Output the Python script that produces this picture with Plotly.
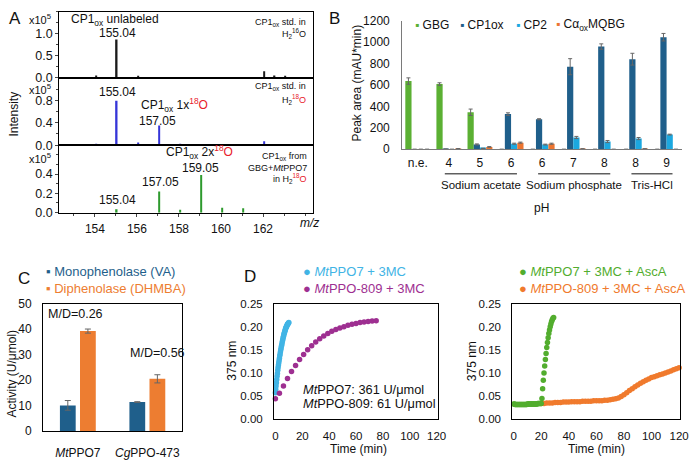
import plotly.graph_objects as go

W, H = 700, 466
FONT = "Liberation Sans, Arial, sans-serif"
TXT = "#111111"
RED = "#e8202a"

# ---------------- Panel A data (m/z spectra, x10^5) ----------------
a1_mz = [154.05, 155.04, 156.05, 162.05, 162.55, 163.05]
a1_int = [0.05, 0.87, 0.03, 0.15, 0.05, 0.03]
a2_mz = [154.05, 155.04, 156.05, 157.05, 158.05, 162.05]
a2_int = [0.01, 0.79, 0.05, 0.35, 0.02, 0.07]
a3_mz = [155.04, 157.05, 158.05, 159.05, 160.05, 161.05]
a3_int = [0.035, 0.22, 0.03, 0.39, 0.05, 0.045]
a_xticks = [154, 156, 158, 160, 162]

# ---------------- Panel B data ----------------
b_cats = ["n.e.", "4", "5", "6", "6", "7", "8", "8", "9"]
b_groups = [("Sodium acetate", 1, 3), ("Sodium phosphate", 4, 6), ("Tris-HCl", 7, 8)]
b_gbg = [636, 608, 345, 0, 0, 0, 0, 0, 0]
b_gbg_err = [30, 12, 30, None, None, None, None, None, None]
b_cp1 = [0, 2, 45, 328, 280, 770, 958, 840, 1045]
b_cp1_err = [None, None, 5, 12, 5, 75, 25, 55, 35]
b_cp2 = [0, 0, 8, 52, 44, 110, 72, 100, 137]
b_cp2_err = [None, None, 2, 5, 4, 10, 10, 10, 4]
b_ca = [0, 5, 22, 62, 52, 4, 0, 4, 0]
b_ca_err = [None, 2, 3, 5, 5, 1, None, 1, None]
b_names = ["GBG", "CP1ox", "CP2", "Cα<sub>ox</sub>MQBG"]
b_colors = ["#5bb033", "#1f5f8b", "#1ca8e0", "#ec7531"]

# ---------------- Panel C data ----------------
c_cats = ["<i>Mt</i>PPO7", "<i>Cg</i>PPO-473"]
c_mono = [10.1, 11.4]
c_mono_err = [1.9, 0.15]
c_di = [39.2, 20.5]
c_di_err = [0.8, 1.6]
c_ratio = ["M/D=0.26", "M/D=0.56"]

# ---------------- Panel D data ----------------
d_blue_t = [0, 0.25, 0.5, 0.75, 1, 1.25, 1.5, 1.75, 2, 2.25, 2.5, 2.75, 3, 3.25, 3.5, 3.75,
            4, 4.25, 4.5, 4.75, 5, 5.25, 5.5, 5.75, 6, 6.25, 6.5, 6.75, 7, 7.25, 7.5, 7.75,
            8, 8.25, 8.5, 8.75, 9, 9.25, 9.5, 9.75, 10]
d_blue_y = [0.057, 0.065, 0.072, 0.079, 0.086, 0.093, 0.099, 0.106, 0.112, 0.117, 0.122,
            0.127, 0.132, 0.137, 0.141, 0.146, 0.150, 0.154, 0.158, 0.161, 0.165, 0.169,
            0.172, 0.176, 0.179, 0.182, 0.185, 0.187, 0.190, 0.192, 0.195, 0.197, 0.199,
            0.200, 0.202, 0.203, 0.205, 0.206, 0.207, 0.208, 0.209]
d_purple_t = [0, 3, 6, 9, 12, 15, 18, 21, 24, 27, 30, 33, 36, 39, 42, 45, 48, 51, 54, 57,
              60, 63, 66, 69, 72, 75]
d_purple_y = [0.044, 0.056, 0.072, 0.088, 0.103, 0.116, 0.129, 0.140, 0.150, 0.159, 0.167,
              0.174, 0.180, 0.185, 0.190, 0.194, 0.197, 0.200, 0.203, 0.205, 0.207, 0.209,
              0.210, 0.211, 0.212, 0.213]
d_green_t = [0, 0.5, 1, 1.5, 2, 2.5, 3, 3.5, 4, 4.5, 5, 5.5, 6, 6.5, 7, 7.5, 8, 8.5, 9, 9.5,
             10, 10.5, 11, 11.5, 12, 12.5, 13, 13.5, 14, 14.5, 15, 15.5, 16, 16.5, 17, 17.5,
             18, 18.5, 19, 19.5, 20, 20.5, 21, 21.5, 22, 22.5, 23, 23.5, 24, 24.5, 25, 25.5,
             26, 26.5, 27, 27.5, 28, 28.5, 29]
d_green_y = [0.033, 0.033, 0.032, 0.032, 0.032, 0.032, 0.032, 0.032, 0.032, 0.032, 0.032,
             0.032, 0.032, 0.032, 0.032, 0.032, 0.032, 0.032, 0.032, 0.032, 0.033, 0.033,
             0.033, 0.033, 0.033, 0.033, 0.033, 0.033, 0.033, 0.033, 0.033, 0.033, 0.033,
             0.033, 0.033, 0.034, 0.034, 0.034, 0.034, 0.034, 0.034,
             0.045, 0.066, 0.084, 0.100, 0.115, 0.129, 0.142, 0.155, 0.166, 0.176, 0.185,
             0.193, 0.200, 0.206, 0.211, 0.215, 0.218, 0.220]
d_orange_t = [20, 22, 24, 26, 28, 30, 32, 34, 36, 38, 40, 42, 44, 46, 48, 50, 52, 54, 56, 58,
              60, 62, 64, 66, 68, 70, 72, 74, 76, 78, 80, 82, 84, 86, 88, 90, 92, 94, 96, 98,
              100, 102, 104, 106, 108, 110, 112, 114, 116, 118, 120]
d_orange_y = [0.034, 0.034, 0.035, 0.035, 0.035, 0.036, 0.036, 0.036, 0.037, 0.037, 0.037,
              0.038, 0.038, 0.038, 0.038, 0.039, 0.039, 0.039, 0.039, 0.040, 0.040, 0.040,
              0.040, 0.041, 0.041, 0.042, 0.043, 0.044, 0.046, 0.049, 0.053, 0.057, 0.062,
              0.066, 0.070, 0.074, 0.078, 0.081, 0.084, 0.087, 0.090, 0.092, 0.094, 0.096,
              0.098, 0.100, 0.102, 0.104, 0.107, 0.109, 0.111]
d_names_left = ["<i>Mt</i>PPO7 + 3MC", "<i>Mt</i>PPO-809 + 3MC"]
d_names_right = ["<i>Mt</i>PPO7 + 3MC + AscA", "<i>Mt</i>PPO-809 + 3MC + AscA"]
d_colors = ["#41b4e5", "#9e2f91", "#52ad2e", "#f07a2d"]
d_rates = ["<i>Mt</i>PPO7: 361 U/μmol", "<i>Mt</i>PPO-809: 61 U/μmol"]


def fx(p):
    return p / W


def fy(p):
    return 1 - p / H


fig = go.Figure()

# ---- Panel A traces ----
a_colors = ["#1a1a1a", "#3535d8", "#2e9a2e"]
for i, (mz, it) in enumerate([(a1_mz, a1_int), (a2_mz, a2_int), (a3_mz, a3_int)]):
    sfx = "" if i == 0 else str(i + 1)
    fig.add_trace(go.Bar(x=mz, y=it, width=0.07, xaxis="x" + sfx, yaxis="y" + sfx,
                         marker=dict(color=a_colors[i], line=dict(width=0)),
                         showlegend=False))

# ---- Panel B traces ----
b_vals = [b_gbg, b_cp1, b_cp2, b_ca]
b_errs = [b_gbg_err, b_cp1_err, b_cp2_err, b_ca_err]
b_pos = list(range(len(b_cats)))
for k in range(4):
    fig.add_trace(go.Bar(x=b_pos, y=b_vals[k], name=b_names[k], width=0.2,
                         offset=-0.4 + 0.2 * k, xaxis="x4", yaxis="y4",
                         marker=dict(color=b_colors[k], line=dict(width=0)),
                         error_y=dict(type="data", array=b_errs[k], color="#666666",
                                      thickness=1, width=2),
                         showlegend=False))

# ---- Panel C traces ----
c_pos = list(range(len(c_cats)))
fig.add_trace(go.Bar(x=c_pos, y=c_mono, width=0.227, offset=-0.258, xaxis="x5", yaxis="y5",
                     marker=dict(color="#1f5f8b", line=dict(width=0)),
                     error_y=dict(type="data", array=c_mono_err, color="#666666",
                                  thickness=1, width=3),
                     name="Monophenolase (VA)", showlegend=False))
fig.add_trace(go.Bar(x=c_pos, y=c_di, width=0.227, offset=0.031, xaxis="x5", yaxis="y5",
                     marker=dict(color="#ed7d31", line=dict(width=0)),
                     error_y=dict(type="data", array=c_di_err, color="#666666",
                                  thickness=1, width=3),
                     name="Diphenolase (DHMBA)", showlegend=False))

# ---- Panel D traces ----
for t, y, c, ax in [(d_blue_t, d_blue_y, d_colors[0], "6"),
                    (d_purple_t, d_purple_y, d_colors[1], "6"),
                    (d_orange_t, d_orange_y, d_colors[3], "7"),
                    (d_green_t, d_green_y, d_colors[2], "7")]:
    fig.add_trace(go.Scatter(x=t, y=y, mode="markers", xaxis="x" + ax, yaxis="y" + ax,
                             marker=dict(color=c, size=5.5, line=dict(width=0)),
                             cliponaxis=False, showlegend=False))

tickfont = dict(family=FONT, size=12, color=TXT)
box = dict(showline=True, linecolor="black", linewidth=1, mirror=True, showgrid=False,
           zeroline=False, tickfont=tickfont)

# Panel A axes
a_rows = [(5, 73, 1.5, [0, 0.5, 1.0], 0.25), (73, 142.5, 1.2, [0, 0.4, 0.8], 0.2),
          (142.5, 212, 0.7, [0, 0.2, 0.4], 0.1)]
layout_axes = {}
for i, (top, bot, ymax, tv, mdt) in enumerate(a_rows):
    sfx = "" if i == 0 else str(i + 1)
    last = i == 2
    xa = dict(box, domain=[fx(58), fx(316)], anchor="y" + sfx, range=[152.3, 164.4],
              tickvals=a_xticks, showticklabels=last, ticks="outside" if last else "",
              ticklen=3, ticklabelstandoff=2)
    if last:
        xa["minor"] = dict(ticks="outside", ticklen=2, dtick=1)
    layout_axes["xaxis" + sfx] = xa
    layout_axes["yaxis" + sfx] = dict(box, domain=[fy(bot), fy(top)], anchor="x" + sfx,
                                      range=[0, ymax], tickvals=tv, tickformat=".1f",
                                      ticks="outside", ticklen=3,
                                      tickfont=dict(family=FONT, size=12.5, color=TXT),
                                      minor=dict(ticks="outside", ticklen=2, dtick=mdt))

# Panel B axes
layout_axes["xaxis4"] = dict(domain=[fx(406), fx(690)], anchor="y4", range=[-0.5, 8.5],
                             tickvals=b_pos, ticktext=b_cats, showline=True,
                             linecolor="#7a7a7a", linewidth=1, showgrid=False, zeroline=False,
                             ticks="", tickfont=tickfont, ticklabelstandoff=2)
layout_axes["yaxis4"] = dict(domain=[fy(146.7), fy(14)], anchor="x4", range=[0, 1200],
                             dtick=200, showline=True, linecolor="#7a7a7a", linewidth=1,
                             showgrid=False, zeroline=False, ticks="", tickfont=tickfont,
                             ticklabelstandoff=9)
# Panel C axes
layout_axes["xaxis5"] = dict(box, domain=[fx(41.7), fx(182.7)], anchor="y5", range=[-0.5, 1.5],
                             tickvals=c_pos, ticktext=c_cats, ticks="", ticklabelstandoff=10)
layout_axes["yaxis5"] = dict(box, domain=[fy(437.3), fy(305.7)], anchor="x5", range=[0, 50],
                             dtick=10, ticks="", ticklabelstandoff=8)
# Panel D axes
dtick_font = dict(family=FONT, size=11.5, color=TXT)
for ax, (l, r) in [("6", (276, 442.3)), ("7", (517.7, 688.3))]:
    layout_axes["xaxis" + ax] = dict(box, domain=[fx(l), fx(r)], anchor="y" + ax,
                                     range=[-1, 121], tickvals=[0, 20, 40, 60, 80, 100, 120],
                                     ticks="", ticklabelstandoff=6, tickfont=dtick_font)
    layout_axes["yaxis" + ax] = dict(box, domain=[fy(425), fy(305.7)], anchor="x" + ax,
                                     range=[0, 0.25], dtick=0.05, tickformat=".2f", ticks="",
                                     ticklabelstandoff=8, tickfont=dtick_font)

ann = []


def note(x, y, text, size=12, color=TXT, xa="center", ya="middle", angle=0,
         xref="paper", yref="paper"):
    ann.append(dict(x=fx(x) if xref == "paper" else x, y=fy(y) if yref == "paper" else y,
                    xref=xref, yref=yref, text=text, showarrow=False, xanchor=xa,
                    yanchor=ya, textangle=angle, borderpad=0,
                    font=dict(family=FONT, size=size, color=color)))


def red(s):
    return '<span style="color:%s">%s</span>' % (RED, s)


# Panel A annotations
note(13, 12, "A", 17)
for yy in [12, 84.5, 156]:
    note(39, yy, "x10<sup>5</sup>", 11)
note(115, 13, "CP1<sub>ox</sub> unlabeled", 12)
note(117, 27, "155.04", 12)
note(309, 16, "CP1<sub>ox</sub> std. in", 9, xa="right")
note(309, 27, "H<sub>2</sub><sup>16</sup>O", 9, xa="right")
note(117.5, 88, "155.04", 12)
note(140, 101, "CP1<sub>ox</sub> 1x" + red("<sup>18</sup>O"), 12, xa="left")
note(157.5, 118, "157.05", 12)
note(309, 82, "CP1<sub>ox</sub> std. in", 9, xa="right")
note(309, 95, "H<sub>2</sub>" + red("<sup>18</sup>O"), 9, xa="right")
note(200, 150, "CP1<sub>ox</sub> 2x" + red("<sup>18</sup>O"), 12)
note(201.7, 166.5, "159.05", 12)
note(160.5, 180, "157.05", 12)
note(117.5, 199, "155.04", 12)
note(310, 154, "CP1<sub>ox</sub> from", 9, xa="right")
note(310, 165.5, "GBG+<i>Mt</i>PPO7", 9, xa="right")
note(310, 177, "in H<sub>2</sub>" + red("<sup>18</sup>O"), 9, xa="right")
note(312, 223, "<i>m/z</i>", 12)
note(12, 110, "Intensity", 12, angle=-90)

# Panel B annotations
note(337, 12, "B", 17)
for k, lx in enumerate([418, 464, 520, 561]):
    note(lx, 19, '<span style="color:%s">▪</span> %s' % (b_colors[k], b_names[k]), 12, xa="left")
note(360, 78, "Peak area (mAU*min)", 12, angle=-90)
for name, s, e in b_groups:
    fig.add_shape(type="line", xref="x4", yref="paper", x0=s - 0.13, x1=e + 0.19,
                  y0=fy(172), y1=fy(172), line=dict(color="#111111", width=1))
    note((s + e) / 2 + 0.03, 184, name, 11.5, xref="x4")
note(547, 207, "pH", 12)

# Panel C annotations
note(22, 280, "C", 17)
note(44, 273, "▪ Monophenolase (VA)", 13, color="#1f5f8b", xa="left")
note(44, 290, "▪ Diphenolase (DHMBA)", 13, color="#ed7d31", xa="left")
note(46, 317, c_ratio[0], 12.5, xa="left")
note(129, 357, c_ratio[1], 12.5, xa="left")
note(10, 378, "Activity (U/μmol)", 12, angle=-90)

# Panel D annotations
note(252, 278, "D", 17)
note(304, 273, "● " + d_names_left[0], 13, color=d_colors[0], xa="left")
note(304, 290, "● " + d_names_left[1], 13, color=d_colors[1], xa="left")
note(304, 394, d_rates[0], 12.8, xa="left")
note(304, 409, d_rates[1], 12.8, xa="left")
note(233, 365, "375 nm", 12, angle=-90)
note(361.7, 456, "Time (min)", 12)
note(523, 273, "● " + d_names_right[0], 13, color=d_colors[2], xa="left")
note(523, 290, "● " + d_names_right[1], 13, color=d_colors[3], xa="left")
note(477, 365, "375 nm", 12, angle=-90)
note(603, 456, "Time (min)", 12)

fig.update_layout(width=W, height=H, margin=dict(l=0, r=0, t=0, b=0),
                  paper_bgcolor="white", plot_bgcolor="white", barmode="group",
                  font=dict(family=FONT, size=12, color=TXT), showlegend=False,
                  annotations=ann, **layout_axes)

fig.write_html("out.html")
